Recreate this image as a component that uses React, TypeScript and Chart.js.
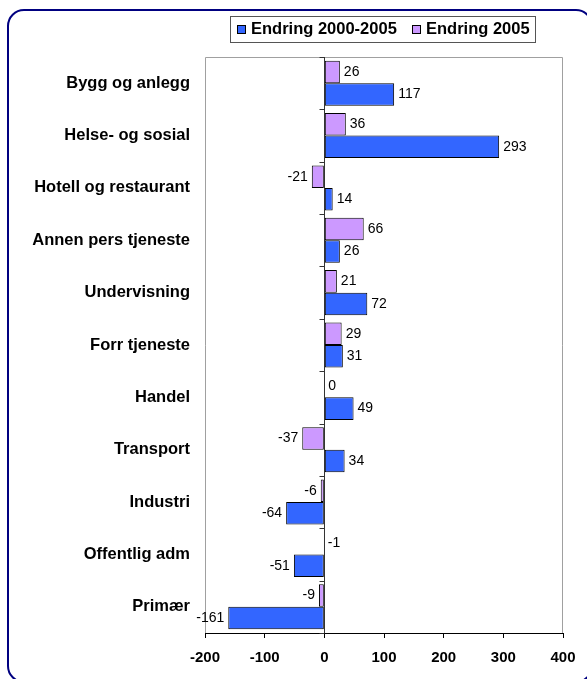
import React, { useEffect, useRef } from "react";
import { Chart, registerables } from "chart.js";

Chart.register(...registerables);

const categories = [
  "Bygg og anlegg",
  "Helse- og sosial",
  "Hotell og restaurant",
  "Annen pers tjeneste",
  "Undervisning",
  "Forr tjeneste",
  "Handel",
  "Transport",
  "Industri",
  "Offentlig adm",
  "Primær",
];
const endring2005 = [26, 36, -21, 66, 21, 29, 0, -37, -6, -1, -9];
const endring2000_2005 = [117, 293, 14, 26, 72, 31, 49, 34, -64, -51, -161];
const xTicks = [-200, -100, 0, 100, 200, 300, 400];
const legendLabels = ["Endring 2000-2005", "Endring 2005"];

const BLUE = "#3366FF";
const PURPLE = "#CC99FF";
const FONT = "'Liberation Sans', Arial, Helvetica, sans-serif";

const framePlugin = {
  id: "frame",
  beforeDraw(chart: any) {
    const ctx = chart.ctx;
    const { left, right, top, bottom } = chart.chartArea;
    ctx.save();
    ctx.fillStyle = "#ffffff";
    ctx.fillRect(0, 0, chart.width, chart.height);
    const x = 8, y = 10, w = 584, h = 672, r = 16;
    ctx.beginPath();
    ctx.moveTo(x + r, y);
    ctx.lineTo(x + w - r, y);
    ctx.arcTo(x + w, y, x + w, y + r, r);
    ctx.lineTo(x + w, y + h - r);
    ctx.arcTo(x + w, y + h, x + w - r, y + h, r);
    ctx.lineTo(x + r, y + h);
    ctx.arcTo(x, y + h, x, y + h - r, r);
    ctx.lineTo(x, y + r);
    ctx.arcTo(x, y, x + r, y, r);
    ctx.closePath();
    ctx.lineWidth = 2;
    ctx.strokeStyle = "#000080";
    ctx.stroke();
    ctx.strokeStyle = "#a0a0a0";
    ctx.lineWidth = 1;
    ctx.beginPath();
    ctx.moveTo(left + 0.5, bottom);
    ctx.lineTo(left + 0.5, top + 0.5);
    ctx.lineTo(right - 0.5, top + 0.5);
    ctx.lineTo(right - 0.5, bottom);
    ctx.stroke();
    ctx.restore();
  },
  afterDraw(chart: any) {
    const ctx = chart.ctx;
    const { top, bottom } = chart.chartArea;
    const xs = chart.scales.x;
    const zx = Math.round(xs.getPixelForValue(0)) + 0.5;
    ctx.save();
    ctx.strokeStyle = "#333333";
    ctx.lineWidth = 1;
    ctx.beginPath();
    ctx.moveTo(zx, top);
    ctx.lineTo(zx, bottom);
    const n = categories.length;
    const step = (bottom - top) / n;
    for (let i = 0; i <= n; i++) {
      const yy = Math.round(top + i * step) + 0.5;
      ctx.moveTo(zx - 5, yy);
      ctx.lineTo(zx, yy);
    }
    ctx.stroke();

    ctx.font = `14px ${FONT}`;
    ctx.fillStyle = "#000000";
    ctx.textBaseline = "middle";
    chart.data.datasets.forEach((ds: any, di: number) => {
      const meta = chart.getDatasetMeta(di);
      meta.data.forEach((bar: any, i: number) => {
        const v = ds.data[i];
        const label = String(v);
        if (v < -1) {
          ctx.textAlign = "right";
          ctx.fillText(label, bar.x - 4, bar.y);
        } else {
          ctx.textAlign = "left";
          ctx.fillText(label, Math.max(bar.x, bar.base) + 4, bar.y);
        }
      });
    });

    const lx = 230, ly = 16, lw = 305, lh = 26;
    ctx.fillStyle = "#ffffff";
    ctx.fillRect(lx, ly, lw, lh);
    ctx.strokeStyle = "#555555";
    ctx.strokeRect(lx + 0.5, ly + 0.5, lw, lh);
    ctx.font = `bold 16.5px ${FONT}`;
    ctx.textAlign = "left";
    ctx.textBaseline = "middle";
    const cy = ly + lh / 2 + 0.5;
    const items = [
      { c: BLUE, t: legendLabels[0], x: 237 },
      { c: PURPLE, t: legendLabels[1], x: 412 },
    ];
    items.forEach((it) => {
      ctx.fillStyle = it.c;
      ctx.fillRect(it.x, cy - 4.5, 9, 9);
      ctx.strokeStyle = "#000000";
      ctx.strokeRect(it.x + 0.5, cy - 4.5 + 0.5, 8, 8);
      ctx.fillStyle = "#000000";
      ctx.fillText(it.t, it.x + 14, cy);
    });
    ctx.restore();
  },
};

export default function App() {
  const ref = useRef<HTMLCanvasElement | null>(null);
  useEffect(() => {
    if (!ref.current) return;
    const chart = new Chart(ref.current, {
      type: "bar",
      data: {
        labels: categories,
        datasets: [
          {
            label: legendLabels[1],
            data: endring2005,
            backgroundColor: PURPLE,
            borderColor: "#000000",
            borderWidth: 1,
            borderSkipped: false,
            categoryPercentage: 0.86,
            barPercentage: 1.0,
          },
          {
            label: legendLabels[0],
            data: endring2000_2005,
            backgroundColor: BLUE,
            borderColor: "#000000",
            borderWidth: 1,
            borderSkipped: false,
            categoryPercentage: 0.86,
            barPercentage: 1.0,
          },
        ],
      },
      options: {
        indexAxis: "y",
        responsive: false,
        animation: false,
        layout: { padding: { left: 0, right: 24, top: 57, bottom: 0 } },
        plugins: {
          legend: { display: false },
          tooltip: { enabled: false },
        },
        scales: {
          x: {
            type: "linear",
            min: -200,
            max: 400,
            afterBuildTicks: (s: any) => {
              s.ticks = xTicks.map((v) => ({ value: v }));
            },
            afterFit: (s: any) => {
              s.height = 46;
            },
            grid: {
              display: true,
              drawOnChartArea: false,
              drawTicks: true,
              tickLength: 5,
              color: "#000000",
            },
            border: { display: true, color: "#000000", width: 1 },
            ticks: {
              color: "#000000",
              padding: 11,
              font: { family: FONT, size: 15, weight: "bold" },
              maxRotation: 0,
            },
          },
          y: {
            afterFit: (s: any) => {
              s.width = 205;
            },
            grid: { display: false, drawTicks: false },
            border: { display: false },
            ticks: {
              color: "#000000",
              padding: 15,
              font: { family: FONT, size: 16.5, weight: "bold" },
            },
          },
        },
      },
      plugins: [framePlugin],
    });
    return () => chart.destroy();
  }, []);
  return (
    <div style={{ position: "absolute", left: 0, top: 0, width: 587, height: 679 }}>
      <canvas ref={ref} width={587} height={679} style={{ display: "block" }} />
    </div>
  );
}
